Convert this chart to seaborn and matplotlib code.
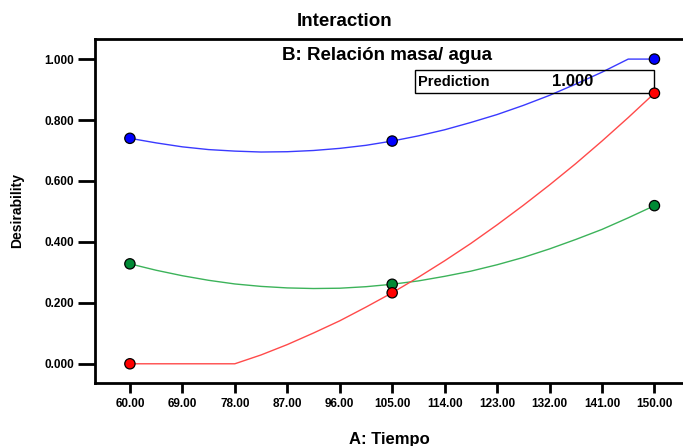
import matplotlib
matplotlib.use("Agg")
import matplotlib.pyplot as plt
import seaborn as sns
import pandas as pd
from matplotlib.patches import Rectangle

sns.set_theme(style="white")
plt.rcParams['font.family'] = ['Liberation Sans', 'DejaVu Sans']
plt.rcParams.update({"text.color": "black", "axes.labelcolor": "black",
                     "xtick.color": "black", "ytick.color": "black"})

# Curve samples (A: Tiempo)
x_curve = [60, 64.5, 69, 73.5, 78, 82.5, 87, 91.5, 96, 100.5, 105,
           109.5, 114, 118.5, 123, 127.5, 132, 136.5, 141, 145.5, 150]
blue_curve = [0.740, 0.725, 0.712, 0.703, 0.698, 0.695, 0.696, 0.700, 0.707, 0.717, 0.731,
              0.748, 0.768, 0.792, 0.818, 0.848, 0.881, 0.918, 0.957, 1.000, 1.000]
green_curve = [0.328, 0.307, 0.289, 0.274, 0.262, 0.254, 0.249, 0.247, 0.248, 0.253, 0.261,
               0.272, 0.287, 0.304, 0.325, 0.349, 0.377, 0.408, 0.441, 0.479, 0.519]
red_curve = [0.0, 0.0, 0.0, 0.0, 0.0, 0.029, 0.063, 0.101, 0.141, 0.186, 0.233,
             0.284, 0.338, 0.395, 0.456, 0.520, 0.587, 0.657, 0.731, 0.808, 0.888]

# Design points
x_points = [60, 105, 150]
blue_points = [0.740, 0.731, 1.000]
green_points = [0.328, 0.261, 0.519]
red_points = [0.000, 0.233, 0.888]

x_ticks = [60, 69, 78, 87, 96, 105, 114, 123, 132, 141, 150]
x_ticklabels = ["60.00", "69.00", "78.00", "87.00", "96.00", "105.00", "114.00",
                "123.00", "132.00", "141.00", "150.00"]
y_ticks = [0.0, 0.2, 0.4, 0.6, 0.8, 1.0]
y_ticklabels = ["0.000", "0.200", "0.400", "0.600", "0.800", "1.000"]

prediction_label = "Prediction"
prediction_value = "1.000"

series = ["blue", "green", "red"]
curve_vals = [blue_curve, green_curve, red_curve]
point_vals = [blue_points, green_points, red_points]
line_colors = {"blue": "#3a3aff", "green": "#3cb35a", "red": "#ff4a4a"}
marker_colors = {"blue": "#0000ff", "green": "#008a35", "red": "#ff0000"}

curve_df = pd.concat([pd.DataFrame({"A": x_curve, "D": v, "s": s})
                      for s, v in zip(series, curve_vals)], ignore_index=True)
point_df = pd.concat([pd.DataFrame({"A": x_points, "D": v, "s": s})
                      for s, v in zip(series, point_vals)], ignore_index=True)

fig = plt.figure(figsize=(6.83, 4.46), dpi=100)
ax = fig.add_axes([0.139, 0.1413, 0.861, 0.7713])

sns.lineplot(data=curve_df, x="A", y="D", hue="s", palette=line_colors,
             linewidth=1.0, legend=False, ax=ax, sort=False)
sns.scatterplot(data=point_df, x="A", y="D", hue="s", palette=marker_colors,
                s=55, edgecolor="black", linewidth=0.9, legend=False, ax=ax,
                zorder=5, clip_on=False)

ax.set_xlim(54.0, 154.9)
ax.set_ylim(-0.063, 1.066)
ax.set_xticks(x_ticks)
ax.set_xticklabels(x_ticklabels, fontsize=8.5, fontweight="bold")
ax.set_yticks(y_ticks)
ax.set_yticklabels(y_ticklabels, fontsize=8.5, fontweight="bold")
ax.tick_params(axis="x", direction="out", length=7, width=2, color="black",
               bottom=True, pad=3.5)
ax.tick_params(axis="y", direction="out", length=12.5, width=2, color="black",
               left=True, pad=2.5)
for side in ["left", "bottom", "top"]:
    ax.spines[side].set_linewidth(2)
    ax.spines[side].set_color("black")
ax.spines["right"].set_visible(False)

ax.set_xlabel("A: Tiempo", fontsize=12, fontweight="bold", labelpad=16)
ax.set_ylabel("Desirability", fontsize=10, fontweight="bold")
ax.yaxis.set_label_coords(-0.121, 0.5)

fig.text(0.505, 0.952, "Interaction", ha="center", va="center", fontsize=13.5,
         fontweight="bold")
ax.text(0.497, 0.952, "B: Relación masa/ agua", transform=ax.transAxes,
        ha="center", va="center", fontsize=13.5, fontweight="bold")

box = Rectangle((108.9, 0.889), 41.1, 0.075, fill=False, edgecolor="black",
                linewidth=1.0, zorder=3)
ax.add_patch(box)
ax.text(109.4, 0.926, prediction_label, ha="left", va="center", fontsize=10.5,
        fontweight="bold", zorder=4)
ax.text(132.5, 0.926, prediction_value, ha="left", va="center", fontsize=12,
        fontweight="bold", zorder=4)

fig.savefig("out.png", dpi=100)
